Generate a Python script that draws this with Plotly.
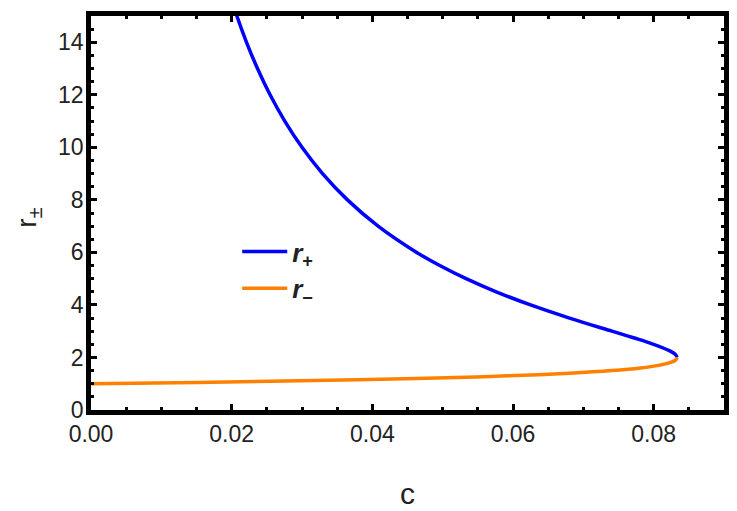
import plotly.graph_objects as go

# r_+ branch: c values and radius
c_plus = [0.01953, 0.02074, 0.02211, 0.02367, 0.02546, 0.02755, 0.03000, 0.03292,
          0.03646, 0.04082, 0.04630, 0.04959, 0.05333, 0.05761, 0.06250, 0.06803,
          0.07407, 0.07713, 0.08000, 0.08230, 0.08314, 0.08333]
r_plus = [16.0, 15.0, 14.0, 13.0, 12.0, 11.0, 10.0, 9.0,
          8.0, 7.0, 6.0, 5.5, 5.0, 4.5, 4.0, 3.5,
          3.0, 2.75, 2.5, 2.25, 2.1, 2.0]

# r_- branch
c_minus = [0.0, 0.01512, 0.02755, 0.03781, 0.04630, 0.05333, 0.05917, 0.06803,
           0.07407, 0.07813, 0.08074, 0.08230, 0.08310, 0.08333]
r_minus = [1.0, 1.05, 1.10, 1.15, 1.20, 1.25, 1.30, 1.40,
           1.50, 1.60, 1.70, 1.80, 1.90, 2.0]

x_ticks = [0.0, 0.02, 0.04, 0.06, 0.08]
y_ticks = [0, 2, 4, 6, 8, 10, 12, 14]

FONT = "Liberation Sans, Arial, sans-serif"
TXT = "#222222"

fig = go.Figure()
fig.add_trace(go.Scatter(x=c_plus, y=r_plus, mode="lines", line_shape="spline",
                         line=dict(color="#0000FF", width=3.5),
                         name="<b><i>r</i><sub>+</sub></b>"))
fig.add_trace(go.Scatter(x=c_minus, y=r_minus, mode="lines", line_shape="spline",
                         line=dict(color="#FF8000", width=3.5),
                         name="<b><i>r</i><sub>\u2212</sub></b>"))

axis_common = dict(
    showgrid=False, zeroline=False, showline=True, linecolor="black", linewidth=4.5,
    mirror="allticks", ticks="inside", ticklen=6, tickwidth=3, tickcolor="black",
    tickfont=dict(family=FONT, size=23, color=TXT),
)

fig.update_xaxes(range=[0, 0.09], tickvals=x_ticks,
                 ticktext=[f"{v:.2f}" for v in x_ticks],
                 minor=dict(dtick=0.005, ticks="inside", ticklen=3, tickwidth=3, tickcolor="black"),
                 ticklabelstandoff=0, **axis_common)
fig.update_yaxes(range=[0, 15], tickvals=y_ticks,
                 minor=dict(dtick=0.5, ticks="inside", ticklen=3, tickwidth=3, tickcolor="black"),
                 ticklabelstandoff=-2, **axis_common)

fig.update_layout(
    width=737, height=511,
    margin=dict(l=91, r=8, t=16, b=101),
    paper_bgcolor="white", plot_bgcolor="white",
    font=dict(family=FONT, color=TXT),
    showlegend=True,
    legend=dict(x=0.231, y=0.355, xanchor="left", yanchor="middle", itemwidth=45,
                bgcolor="rgba(0,0,0,0)", font=dict(family=FONT, size=26, color=TXT)),
    annotations=[
        dict(text="c", xref="paper", yref="paper", x=0.5, y=-0.211,
             xanchor="center", yanchor="middle", showarrow=False,
             font=dict(family=FONT, size=30, color=TXT)),
        dict(text="r<sub>\u00b1</sub>", xref="paper", yref="paper", x=-0.0987, y=0.487,
             xanchor="center", yanchor="middle", showarrow=False, textangle=-90,
             font=dict(family=FONT, size=28, color=TXT)),
    ],
)

fig.write_html("out.html", config={"displayModeBar": False},
               post_script="document.body.style.margin='0';")
